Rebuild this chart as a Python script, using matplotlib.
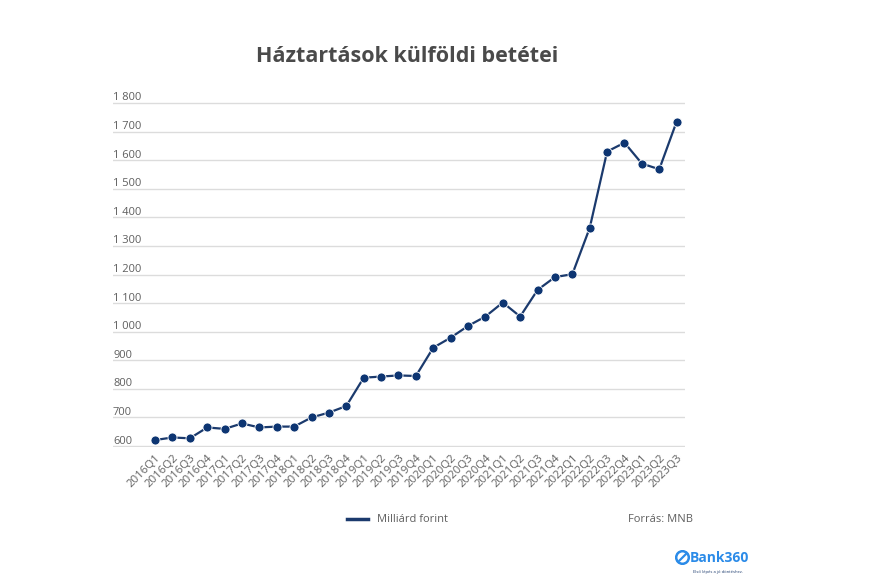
import matplotlib
matplotlib.use("Agg")
import matplotlib.pyplot as plt
import matplotlib.transforms as mtransforms
from matplotlib.patches import Circle

plt.rcParams['font.family'] = ['Open Sans', 'DejaVu Sans']

quarters = ["2016Q1", "2016Q2", "2016Q3", "2016Q4",
            "2017Q1", "2017Q2", "2017Q3", "2017Q4",
            "2018Q1", "2018Q2", "2018Q3", "2018Q4",
            "2019Q1", "2019Q2", "2019Q3", "2019Q4",
            "2020Q1", "2020Q2", "2020Q3", "2020Q4",
            "2021Q1", "2021Q2", "2021Q3", "2021Q4",
            "2022Q1", "2022Q2", "2022Q3", "2022Q4",
            "2023Q1", "2023Q2", "2023Q3"]
values = [621, 630, 627, 665,
          660, 679, 665, 668,
          668, 700, 717, 740,
          839, 843, 847, 845,
          944, 979, 1020, 1053,
          1102, 1053, 1146, 1191,
          1201, 1363, 1630, 1661,
          1588, 1568, 1735]
y_ticks = [600, 700, 800, 900, 1000, 1100, 1200, 1300, 1400, 1500, 1600, 1700, 1800]
y_tick_labels = ["600", "700", "800", "900", "1 000", "1 100", "1 200", "1 300",
                 "1 400", "1 500", "1 600", "1 700", "1 800"]
series_name = "Milliárd forint"
title = "Háztartások külföldi betétei"
source = "Forrás: MNB"

W, H = 889, 585
fig = plt.figure(figsize=(W / 100, H / 100), dpi=100)
fig.patch.set_facecolor("white")

left, right, top, bottom = 113, 685, 102.1, 446.9
ax = fig.add_axes([left / W, 1 - bottom / H, (right - left) / W, (bottom - top) / H])

line_color = "#1b3a6d"
marker_color = "#0d3572"
text_color = "#5f5f5f"

x = list(range(len(quarters)))
ax.plot(x, values, color=line_color, lw=1.6, marker="o", markersize=6.5,
        markerfacecolor=marker_color, markeredgecolor="white", markeredgewidth=0.6,
        clip_on=False, zorder=3)

ax.set_xlim(-2.42, 30.48)
ax.set_ylim(597, 1803)
ax.set_yticks(y_ticks)
ax.set_yticklabels([])
ax.tick_params(axis="y", length=0)
ax.grid(axis="y", color="#dcdcdc", lw=1)
ax.set_axisbelow(True)
for s in ax.spines.values():
    s.set_visible(False)

trans = mtransforms.blended_transform_factory(ax.transAxes, ax.transData)
off = mtransforms.offset_copy(trans, fig=fig, x=0, y=-0.5, units="dots")
for v, lab in zip(y_ticks, y_tick_labels):
    ax.text(0.0, v, lab, transform=off, ha="left", va="bottom",
            fontsize=8, color=text_color)

ax.set_xticks(x)
ax.set_xticklabels(quarters, rotation=45, ha="right", rotation_mode="anchor",
                   fontsize=8.2, color=text_color)
ax.tick_params(axis="x", length=0, pad=4)

fig.text(407 / W, 1 - 56 / H, title, ha="center", va="center",
         fontsize=15.5, fontweight="bold", color="#4a4a4a")

# legend
fig.add_artist(plt.Line2D([347 / W, 368 / W], [1 - 519 / H, 1 - 519 / H],
                          color=line_color, lw=2.5))
fig.text(377 / W, 1 - 519 / H, series_name, ha="left", va="center",
         fontsize=8, color=text_color)
fig.text(693 / W, 1 - 519 / H, source, ha="right", va="center",
         fontsize=8, color=text_color)

# logo
logo_ax = fig.add_axes([675 / W, 1 - 565 / H, 15 / W, 15 / H])
logo_ax.set_xlim(0, 1); logo_ax.set_ylim(0, 1); logo_ax.axis("off")
logo_ax.add_patch(Circle((0.5, 0.5), 0.42, fill=False, ec="#2b8be8", lw=1.8))
logo_ax.plot([0.3, 0.72], [0.3, 0.72], color="#2b8be8", lw=1.6)
fig.text(690 / W, 1 - 558 / H, "Bank360", ha="left", va="center",
         fontsize=10, fontweight="bold", color="#2b8be8")
fig.text(693 / W, 1 - 572 / H, "Első lépés a jó döntéshez.", ha="left", va="center",
         fontsize=3, color="#1b3a6d")

fig.savefig("out.png", dpi=100)
